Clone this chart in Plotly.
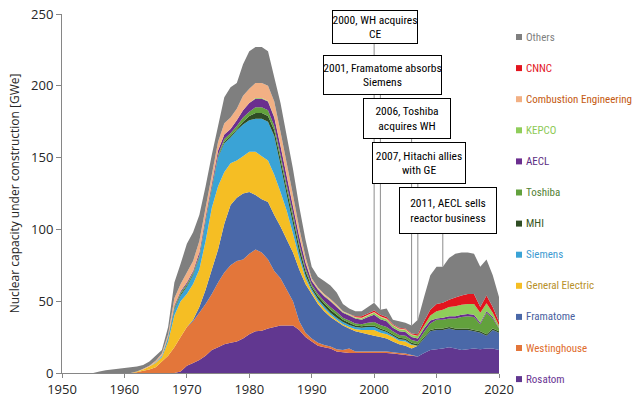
import plotly.graph_objects as go

years = list(range(1955, 2021))

# values per manufacturer (GWe under construction), 1955..2020
rosatom = [0]*14 + [1, 5, 7, 9, 12, 16, 18, 20, 21, 22, 24, 27, 29, 29.5, 31, 32, 33, 33, 33, 30, 25,
                    22, 19, 18, 17, 15, 14.5, 14, 14, 14, 14, 14, 14, 14, 13.5, 13, 12.5, 12, 11.5, 14, 16,
                    16.5, 17, 18, 17, 16, 16.5, 17, 16.5, 17, 17, 16]
westinghouse = [0]*7 + [0.5, 1.5, 2.5, 4, 8, 12, 18, 24, 27, 29, 33, 36, 39, 45, 50, 54, 56, 55, 56, 57, 54.5,
                        48, 39, 33, 25, 17, 6, 3, 2, 2, 1.5, 1.5, 1.5, 1.5, 3, 1, 1, 1, 1, 1, 1, 1, 1, 1, 0.5,
                        0, 0, 0, 0, 0, 0, 0, 0, 0, 0, 0, 0, 0, 0]
framatome = [0]*16 + [1, 4, 10, 17, 23, 34, 42, 44, 46, 43, 38, 37, 40, 39, 36, 35, 34, 36, 34, 31, 27, 23.5,
                      20.5, 19.5, 17, 14, 14, 13, 12, 11, 10, 9, 7.5, 6, 5.5, 4.5, 7.5, 10, 13, 13.5, 13, 13,
                      13, 14, 13.5, 12, 11.5, 9, 13, 12]
general_electric = [0]*7 + [0.5, 1, 2, 3, 3, 10, 22, 25, 23, 25, 26, 34, 43, 44, 36, 29, 26, 26, 28, 30, 30, 29,
                            28, 24, 20, 13, 8, 4, 2, 2, 2, 1.5, 1, 1, 1, 1.5, 2, 3, 4, 3, 3, 3, 2.5, 3, 2.5,
                            0, 0, 0, 0, 0, 0, 0, 0, 0, 0, 0, 0, 0, 0]
siemens = [0]*10 + [0.5, 1, 2, 4, 4, 5, 6, 8, 13, 13, 20, 20, 18, 21, 22, 22, 23, 26, 27, 27, 19, 11, 7, 4, 2,
                    1.5, 1.5, 1.5, 1.5, 1.5, 1.5, 1.5, 1.5, 1.5, 2, 2, 2, 1.5, 1, 1, 1, 0.5,
                    0, 0, 0, 0, 0, 0, 0, 0, 0, 0, 0, 0, 0, 0]
mhi = [0]*12 + [0.5, 1, 1, 1, 1, 1, 1, 1, 1, 1, 1, 1, 2, 3, 4, 4, 4, 4, 4, 4, 4, 4, 3, 1.5, 2, 2, 2, 2, 1.5,
                1.5, 1, 1, 1, 1, 1, 1, 1, 1, 1, 1, 1, 1, 1, 1, 1, 1, 1, 1, 1, 1, 1, 1, 1, 1]
toshiba = [0]*12 + [0.5, 1, 1, 1, 1, 1, 1, 1, 1, 2, 2, 2, 3, 3, 4, 4, 4, 3, 3, 3, 3, 2, 2, 1.5, 1.5, 1.5, 2, 2,
                    1.5, 1.5, 1.5, 1.5, 2, 2.5, 2.5, 2.5, 2, 2, 2, 2, 2, 3.5, 4.5, 6, 6, 6, 7, 8, 8.5, 9, 5,
                    15, 7, 2]
aecl = [0]*12 + [0.5, 1, 1, 1, 1, 2, 2, 2, 3, 3, 3, 4, 5, 6, 6, 6, 6, 6, 6, 6, 5, 5, 4, 2.5, 3, 3.5, 4, 3.5,
                 3.5, 3.5, 3.5, 3, 4, 5, 4, 4, 2.5, 2.5, 2.5, 2, 2, 2.5, 2, 1, 1.5, 1.5, 1.5, 1.5, 1.5, 1.5,
                 1, 1, 1, 0.5]
kepco = [0]*26 + [0.5, 0.5, 0.5, 0.5, 0.5, 0.5, 0.5, 0.5, 0.5, 0.5, 0.5, 0.5, 0.5, 0.5, 0.5, 0.5, 0.5, 1, 1,
                  1.5, 1.5, 1.5, 1.5, 1.5, 1.5, 1.5, 2, 2, 3.5, 5, 5.5, 6.5, 7, 7, 7, 7.5, 7, 5.5, 3, 1.5]
combustion_eng = [0]*8 + [0.5, 0.5, 1, 1.5, 1.5, 5, 5, 7, 7, 8, 6, 6, 6, 8, 8, 8, 10, 10, 10.5, 10.5, 10.5,
                          10.5, 9.5, 8.5, 7.5, 5.5, 3.5, 1.5, 1, 1, 1, 1, 0.5, 0.5, 0.5, 0.5, 0.5, 0.5, 0.5,
                          0.5, 0.5, 0.5, 0.5, 0.5, 0, 0, 0, 0, 0, 0, 0, 0, 0, 0, 0, 0, 0, 0]
cnnc = [0]*42 + [0.5, 1, 1, 1, 1, 1, 0.5, 0.5, 0.5, 0.5, 1, 3, 4, 5, 5, 5, 6, 6.5, 7, 7, 4, 5.5, 4, 2.5]
others = [0, 1, 2, 2.5, 3, 3.5, 4, 3.5, 2.5, 3, 3.5, 2.5, 5, 11, 14, 20, 20, 18, 15, 14, 11, 18, 21, 18, 22, 26,
          25, 25, 24, 17, 20, 19, 18, 15, 12, 8, 7.5, 9, 9.5, 8.5, 5, 4, 3.5, 3.5, 4.5, 5.5, 3.5, 6, 3, 4.5, 4,
          5.5, 10, 17, 24, 26, 25, 29, 30.5, 30, 29, 28, 28, 25, 22, 17.5]

series = [
    ("Rosatom", rosatom, "#613790", "#6a3593"),
    ("Westinghouse", westinghouse, "#e3763a", "#e06c2c"),
    ("Framatome", framatome, "#4a68a8", "#4a5fa0"),
    ("General Electric", general_electric, "#f5be24", "#b8912a"),
    ("Siemens", siemens, "#3aa3d6", "#3d9ad1"),
    ("MHI", mhi, "#2f4d24", "#375623"),
    ("Toshiba", toshiba, "#62a13d", "#548235"),
    ("AECL", aecl, "#6b2e8f", "#5b2c82"),
    ("KEPCO", kepco, "#8fcd5a", "#8cc955"),
    ("Combustion Engineering", combustion_eng, "#f2b084", "#c55a11"),
    ("CNNC", cnnc, "#e3141e", "#e3141e"),
    ("Others", others, "#7f7f7f", "#7f7f7f"),
]

events = [
    (2000, "2000, WH acquires<br>CE"),
    (2001, "2001, Framatome absorbs<br>Siemens"),
    (2006, "2006, Toshiba<br>acquires WH"),
    (2007, "2007, Hitachi allies<br>with GE"),
    (2011, "2011, AECL sells<br>reactor business"),
]

fig = go.Figure()
for name, vals, col, _ in series:
    fig.add_trace(go.Scatter(x=years, y=vals, name=name, mode="none", stackgroup="one",
                             fillcolor=col, line=dict(width=0), showlegend=False,
                             hoverinfo="x+y+name"))

# plot area in pixels
L, R, T, B = 62, 499, 14, 373
W_, H_ = 640, 403

def px(xp):
    return (xp - L) / (R - L)

def py(yp):
    return (B - yp) / (B - T)

NARROW = "Liberation Sans Narrow, Arial Narrow, Roboto Condensed, DejaVu Sans Condensed, sans-serif"

# event boxes (center px, size px)
boxes = [(375.3, 26.7, 86, 34), (382.5, 75, 119, 40), (406.7, 118.8, 88, 41),
         (418.7, 162.5, 94, 42), (447.8, 210.8, 98, 47)]
annotations = []
shapes = []
totals = {yr: sum(s[1][i] for s in series) for i, yr in enumerate(years)}
for (yr, txt), (cx, cy, bw, bh) in zip(events, boxes):
    top_val = (B - cy) / (B - T) * 250
    shapes.append(dict(type="line", xref="x", yref="y", x0=yr, x1=yr, y0=totals[yr], y1=top_val,
                       line=dict(color="#8c8c8c", width=1), layer="above"))
    annotations.append(dict(xref="paper", yref="paper", x=px(cx), y=py(cy), xanchor="center",
                            yanchor="middle", text=txt, showarrow=False, align="center",
                            width=bw - 2, height=bh - 2, borderpad=0, bordercolor="#000000",
                            borderwidth=1, bgcolor="#ffffff",
                            font=dict(family=NARROW, size=11.5, color="#000000")))

# legend (reverse order, Others on top)
leg_top, leg_step = 37, 31.1
for k, (name, vals, col, tcol) in enumerate(reversed(series)):
    yc = leg_top + k * leg_step
    shapes.append(dict(type="rect", xref="paper", yref="paper", x0=px(516), x1=px(522),
                       y0=py(yc + 3), y1=py(yc - 3), fillcolor=col, line=dict(width=0)))
    annotations.append(dict(xref="paper", yref="paper", x=px(524), y=py(yc), xanchor="left",
                            yanchor="middle", text=name, showarrow=False,
                            font=dict(family=NARROW, size=11, color=tcol)))

fig.update_layout(
    width=W_, height=H_,
    margin=dict(l=L, r=W_ - R, t=T, b=H_ - B, autoexpand=False),
    paper_bgcolor="white", plot_bgcolor="white",
    showlegend=False,
    font=dict(family="Open Sans, sans-serif", color="#262626"),
    xaxis=dict(range=[1950, 2020], tickmode="array", tickvals=list(range(1950, 2021, 10)),
               showgrid=False, zeroline=False, showline=True, linecolor="#868686", linewidth=1,
               automargin=False,
               ticks="outside", ticklen=4, tickcolor="#868686", tickfont=dict(size=13, color="#262626")),
    yaxis=dict(range=[0, 250], tickmode="array", tickvals=[0, 50, 100, 150, 200, 250],
               showgrid=False, zeroline=False, showline=True, linecolor="#868686", linewidth=1,
               automargin=False,
               ticks="outside", ticklen=5, tickcolor="#868686", tickfont=dict(size=13, color="#262626"),
               title=dict(text="Nuclear capacity under construction [GWe]",
                          font=dict(size=12, color="#262626"), standoff=8)),
    annotations=annotations,
    shapes=shapes,
)

fig.write_html("out.html")
